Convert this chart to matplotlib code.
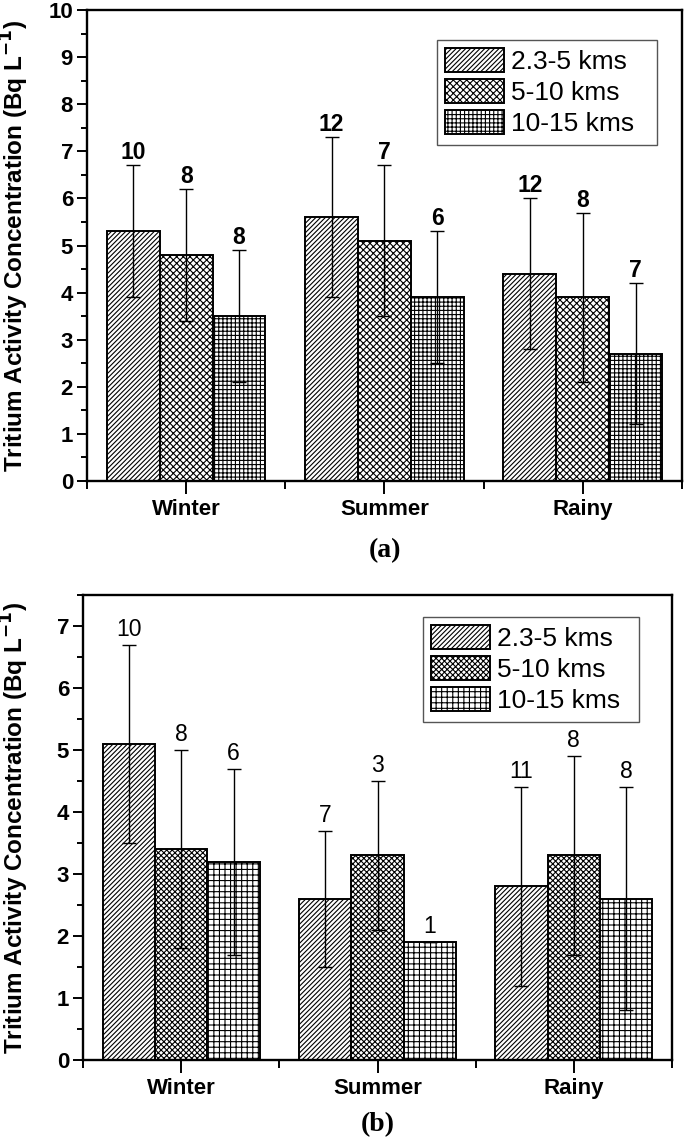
import matplotlib
matplotlib.use("Agg")
import matplotlib.pyplot as plt
import numpy as np
from matplotlib.ticker import MultipleLocator, FixedLocator

plt.rcParams['font.family'] = ['Liberation Sans', 'DejaVu Sans']
plt.rcParams['hatch.linewidth'] = 0.8

seasons = ["Winter", "Summer", "Rainy"]
series = ["2.3-5 kms", "5-10 kms", "10-15 kms"]

# panel (a)
a_means = [[5.3, 5.6, 4.4], [4.8, 5.1, 3.9], [3.5, 3.9, 2.7]]
a_errs = [[1.4, 1.7, 1.6], [1.4, 1.6, 1.8], [1.4, 1.4, 1.5]]
a_counts = [[10, 12, 12], [8, 7, 8], [8, 6, 7]]

# panel (b)
b_means = [[5.1, 2.6, 2.8], [3.4, 3.3, 3.3], [3.2, 1.9, 2.6]]
b_errs = [[1.6, 1.1, 1.6], [1.6, 1.2, 1.6], [1.5, 0.0, 1.8]]
b_counts = [[10, 7, 11], [8, 3, 8], [6, 1, 8]]

hatches_a = ['///////', 'xxxxx', '++++']
hatches_b = ['///////', 'xxxxxx', '+++']

W, H = 685, 1147
fig = plt.figure(figsize=(W / 100, H / 100), dpi=100)

def fx(px):
    return px / W

def fy(py):
    return 1 - py / H

ax_a = fig.add_axes([fx(87), fy(481), fx(682) - fx(87), fy(10) - fy(481)])
ax_b = fig.add_axes([fx(83), fy(1060), fx(672) - fx(83), fy(595) - fy(1060)])


def draw(ax, means, errs, counts, ymax, major_max, bold_counts, hatches, legend_box,
         count_off, ylab_x):
    x = np.arange(1, len(seasons) + 1)
    width = 0.8 / 3
    handles = []
    for i in range(3):
        pos = x + (i - 1) * width
        bars = ax.bar(pos, means[i], width, color='white', edgecolor='black',
                      linewidth=1.4, hatch=hatches[i], label=series[i], zorder=2)
        handles.append(bars)
        ax.errorbar(pos, means[i], yerr=errs[i], fmt='none', ecolor='black',
                    elinewidth=1.0, capsize=5, capthick=1.0, zorder=3)
        for p, m, e, c in zip(pos, means[i], errs[i], counts[i]):
            ax.text(p, m + e + count_off, str(c), ha='center', va='bottom',
                    fontsize=16.5, fontweight='bold' if bold_counts else 'normal',
                    zorder=4)
    ax.set_xlim(0.5, 3.5)
    ax.set_ylim(0, ymax)
    ax.set_xticks(x)
    ax.set_xticklabels(seasons, fontsize=16, fontweight='bold')
    ax.xaxis.set_minor_locator(FixedLocator([0.5, 1.5, 2.5, 3.5]))
    ax.yaxis.set_major_locator(FixedLocator(list(range(0, major_max + 1))))
    ax.yaxis.set_minor_locator(MultipleLocator(0.5))
    for lab in ax.get_yticklabels():
        lab.set_fontweight('bold')
        lab.set_fontsize(16)
    ax.tick_params(axis='x', which='major', direction='out', length=9, width=1.4, pad=4)
    ax.tick_params(axis='x', which='minor', direction='out', length=6, width=1.4)
    ax.tick_params(axis='y', which='major', direction='out', length=7, width=1.4, pad=3)
    ax.tick_params(axis='y', which='minor', direction='out', length=4, width=1.4)
    for s in ax.spines.values():
        s.set_linewidth(1.7)
    ax.set_ylabel("Tritium Activity Concentration (Bq L$^{\\mathbf{-1}}$)",
                  fontsize=17.5, fontweight='bold', va='center')
    ax.yaxis.set_label_coords(ylab_x, 0.5)
    x0, y0, w, h = legend_box
    leg = ax.legend(handles=handles, loc='upper left',
                    bbox_to_anchor=(fx(x0), fy(y0), fx(x0 + w) - fx(x0), 0.0001),
                    bbox_transform=fig.transFigure, mode='expand',
                    fontsize=19, handlelength=2.2, handleheight=1.02,
                    labelspacing=0.19, handletextpad=0.3, borderpad=0.32,
                    borderaxespad=0, fancybox=False, framealpha=1)
    leg.get_frame().set_edgecolor('#555555')
    leg.get_frame().set_linewidth(1.0)


draw(ax_a, a_means, a_errs, a_counts, 10, 10, True, hatches_a, (437, 40, 220, 104),
     0.02, (15 - 87) / 595)
draw(ax_b, b_means, b_errs, b_counts, 7.5, 7, False, hatches_b, (423, 617, 216, 102),
     0.06, (15 - 83) / 589)

fig.text(fx(385), fy(551), "(a)", ha='center', va='center', fontsize=20,
         fontweight='bold', family=['Liberation Serif', 'DejaVu Serif'])
fig.text(fx(378), fy(1125), "(b)", ha='center', va='center', fontsize=20,
         fontweight='bold', family=['Liberation Serif', 'DejaVu Serif'])

fig.savefig("out.png", dpi=100)
